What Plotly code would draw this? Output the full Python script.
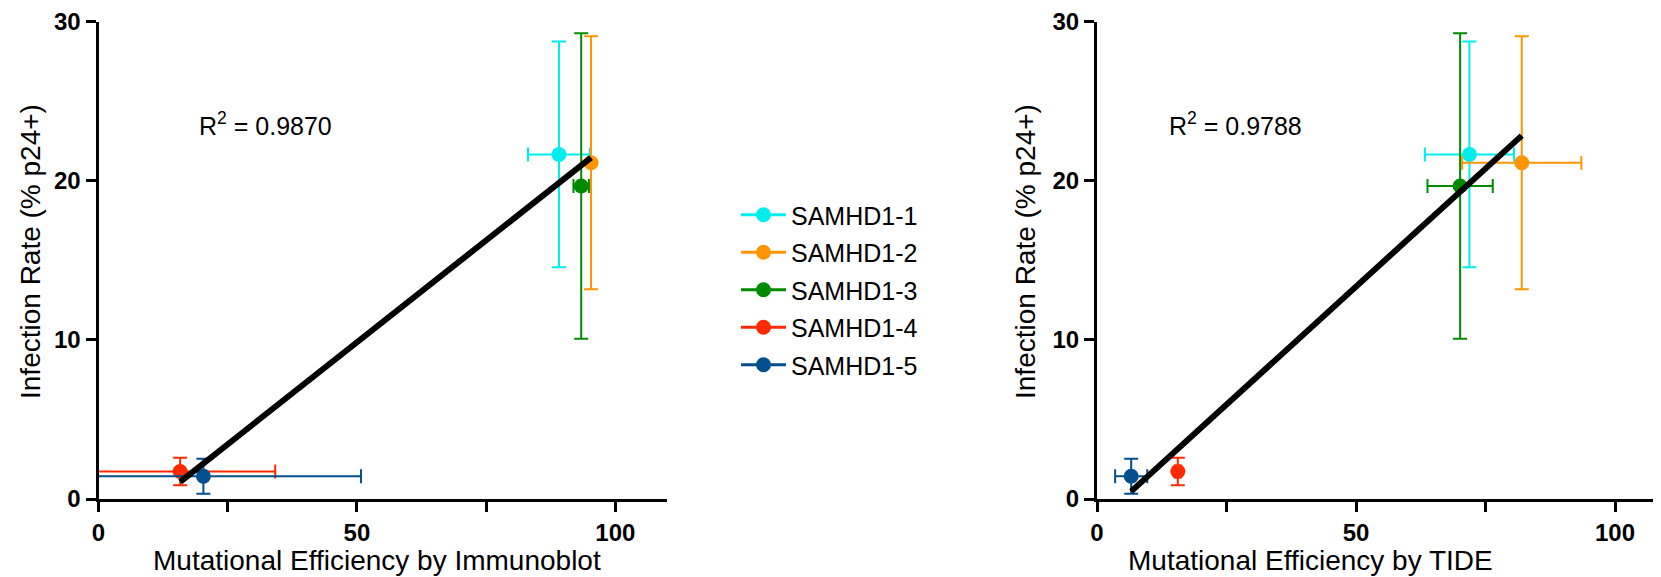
import numpy as np
import plotly.graph_objects as go

# ---------------- data ----------------
names = ["SAMHD1-1", "SAMHD1-2", "SAMHD1-3", "SAMHD1-4", "SAMHD1-5"]
colors = ["#00EEEE", "#FF9500", "#008A00", "#FF2A00", "#004F8F"]

infection = [21.66, 21.13, 19.67, 1.73, 1.43]
infection_err = [7.1, 7.95, 9.6, 0.87, 1.1]

immunoblot = [89.1, 95.3, 93.4, 15.8, 20.3]
immunoblot_err = [6.0, 0.0, 1.5, 18.4, 30.5]

tide = [71.9, 82.0, 70.1, 15.6, 6.6]
tide_err = [8.6, 11.5, 6.3, 0.6, 3.1]

r2_labels = ["0.9870", "0.9788"]
x_titles = ["Mutational Efficiency by Immunoblot", "Mutational Efficiency by TIDE"]
y_title = "Infection Rate (% p24+)"
x_tickvals = [0, 50, 100]
y_tickvals = [0, 10, 20, 30]

FONT = "Liberation Sans, Arial, Helvetica, sans-serif"
W, H = 1661, 577
OX, OY = 8, 8  # page offset of the figure inside the browser window


def px(x):
    return (x - OX) / W


def py(y):
    return 1 - (y - OY) / H


fig = go.Figure()

panels = [("x", "y", immunoblot, immunoblot_err, True),
          ("x2", "y2", tide, tide_err, False)]

for xa, ya, xs, xerrs, show in panels:
    for i, n in enumerate(names):
        fig.add_trace(go.Scatter(
            x=[xs[i]], y=[infection[i]], name=n, xaxis=xa, yaxis=ya,
            mode="lines+markers", showlegend=show, legendgroup=n,
            marker=dict(color=colors[i], size=15),
            line=dict(color=colors[i], width=3),
            error_x=dict(type="data", array=[xerrs[i]], color=colors[i],
                         thickness=2, width=7, visible=xerrs[i] > 0),
            error_y=dict(type="data", array=[infection_err[i]], color=colors[i],
                         thickness=2, width=7),
            cliponaxis=True,
        ))
    # linear regression through the points
    xa_arr = np.array(xs)
    ya_arr = np.array(infection)
    slope, intercept = np.polyfit(xa_arr, ya_arr, 1)
    xl = np.array([xa_arr.min(), xa_arr.max()])
    fig.add_trace(go.Scatter(
        x=xl, y=slope * xl + intercept, mode="lines", xaxis=xa, yaxis=ya,
        line=dict(color="black", width=6), showlegend=False, hoverinfo="skip"))

ax_common = dict(showline=True, linewidth=3, linecolor="black", ticks="outside",
                 ticklen=10, tickwidth=3, tickcolor="black", showgrid=False,
                 zeroline=False, automargin=False,
                 tickfont=dict(family=FONT, size=24, color="black", weight="bold"))
minor_x = dict(dtick=25, tick0=0, ticks="outside", ticklen=10, tickwidth=3,
               tickcolor="black", showgrid=False)

ydom = [py(499), py(21.7)]
x2_start = px(1097)
x2_range_max = (W * (1 - x2_start)) / 5.18  # 5.18 px per unit, like the reference
fig.update_layout(
    width=W, height=H, autosize=False,
    margin=dict(l=0, r=0, t=0, b=0, autoexpand=False),
    paper_bgcolor="white", plot_bgcolor="white",
    font=dict(family=FONT, color="black"),
    xaxis=dict(domain=[px(98.5), px(667)], range=[0, 110], anchor="y",
               tickvals=x_tickvals, minor=minor_x, **ax_common),
    yaxis=dict(domain=ydom, range=[0, 30], anchor="x",
               tickvals=y_tickvals, **ax_common),
    xaxis2=dict(domain=[x2_start, 1.0], range=[0, x2_range_max], anchor="y2",
                tickvals=x_tickvals, minor=minor_x, **ax_common),
    yaxis2=dict(domain=ydom, range=[0, 30], anchor="x2",
                tickvals=y_tickvals, **ax_common),
    legend=dict(x=px(736), y=py(192), xanchor="left", yanchor="top",
                font=dict(family=FONT, size=25, color="black"),
                traceorder="grouped", tracegroupgap=2, itemwidth=45,
                bgcolor="rgba(0,0,0,0)", borderwidth=0),
    showlegend=True,
)

annotations = []
# R^2 labels
for (xr, yr, xpos), lab in zip([("x", "y", 19.1), ("x2", "y2", 13.6)], r2_labels):
    annotations.append(dict(x=xpos, y=23.6, xref=xr, yref=yr, xanchor="left",
                            yanchor="middle", showarrow=False,
                            text="R<sup>2</sup> = " + lab,
                            font=dict(family=FONT, size=25, color="black")))
# axis titles
for xc, t in zip([377, 1310], x_titles):
    annotations.append(dict(x=px(xc), y=py(560), xref="paper", yref="paper",
                            xanchor="center", yanchor="middle", showarrow=False,
                            text=t, font=dict(family=FONT, size=28, color="black")))
for xc in [30, 1025]:
    annotations.append(dict(x=px(xc), y=py(252), xref="paper", yref="paper",
                            xanchor="center", yanchor="middle", showarrow=False,
                            textangle=-90, text=y_title,
                            font=dict(family=FONT, size=28, color="black")))
fig.update_layout(annotations=annotations)

fig.write_html("out.html")
